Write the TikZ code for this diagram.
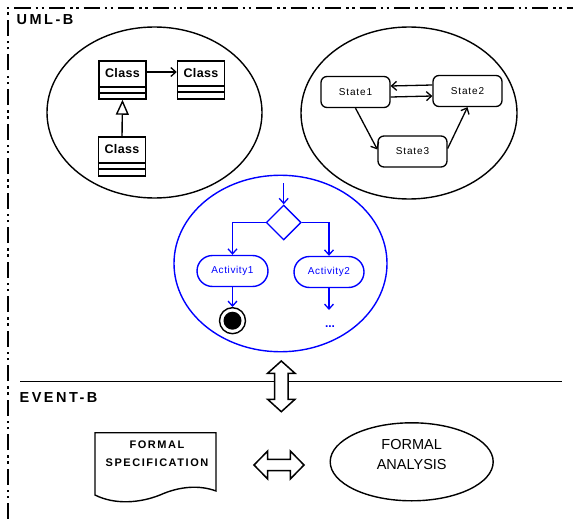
\documentclass[tikz,border=0pt]{standalone}
\usepackage{fontspec}
\setmainfont{Liberation Sans}
\usetikzlibrary{arrows.meta,shapes.geometric}
\newcommand{\labfont}{\fontsize{14.5pt}{17pt}\selectfont\bfseries\addfontfeature{LetterSpace=17}}
\newcommand{\clsfont}{\fontsize{12.5pt}{14pt}\selectfont\bfseries\addfontfeature{LetterSpace=3}}
\newcommand{\stfont}{\fontsize{10pt}{12pt}\selectfont\addfontfeature{LetterSpace=9}}
\newcommand{\actfont}{\fontsize{10pt}{12pt}\selectfont\addfontfeature{LetterSpace=6}}
\newcommand{\specfont}{\fontsize{11pt}{18pt}\selectfont\bfseries\addfontfeature{LetterSpace=14}}
\newcommand{\anafont}{\fontsize{14.5pt}{20pt}\selectfont}
\begin{document}
\begin{tikzpicture}[x=1pt,y=-1pt,line width=1.4pt,
  frameline/.style={line width=1.3pt,dash pattern=on 16pt off 5pt on 2.5pt off 3.5pt on 2.5pt off 5pt},
  bigell/.style={ellipse,draw,line width=1.4pt,inner sep=0pt},
  classbox/.style={rectangle,draw,line width=1.5pt,minimum width=47pt,minimum height=38pt,inner sep=0pt},
  classname/.style={inner sep=0pt,font=\clsfont},
  statebox/.style={rectangle,rounded corners=6pt,draw,line width=1.3pt,minimum width=69pt,minimum height=31pt,inner sep=0pt,font=\stfont},
  actbox/.style={rectangle,rounded corners=15.5pt,draw=blue,line width=1.4pt,minimum width=70pt,minimum height=31pt,inner sep=0pt,text=blue,font=\actfont},
  arr/.style={-{Straight Barb[length=5pt,width=9pt]},line width=1.3pt},
  barr/.style={arr,draw=blue},
  bigarrow/.style={draw=black,fill=white,line width=1.5pt,line join=miter},
  compline/.style={line width=1.5pt}
]
\useasboundingbox (0,0) rectangle (573,519);

% frame
\draw[frameline] (8,519) -- (8,8) -- (573,8);
\node[anchor=west,inner sep=0pt,font=\labfont] (umlb) at (16,19.5) {UML-B};

% class diagram
\node[bigell,minimum width=215pt,minimum height=171pt] (ecls) at (154.5,112.5) {};
\node[classbox] (c1) at (122.5,80) {};
\node[classname] (c1n) at (122.5,73) {Class};
\draw[compline] ([yshift=13pt]c1.south west) -- ([yshift=13pt]c1.south east);
\draw[compline] ([yshift=7pt]c1.south west) -- ([yshift=7pt]c1.south east);
\node[classbox] (c2) at (201,80) {};
\node[classname] (c2n) at (201,73) {Class};
\draw[compline] ([yshift=14pt]c2.south west) -- ([yshift=14pt]c2.south east);
\draw[compline] ([yshift=8pt]c2.south west) -- ([yshift=8pt]c2.south east);
\node[classbox,minimum height=39pt] (c3) at (122,156.5) {};
\node[classname] (c3n) at (122,149.5) {Class};
\draw[compline] ([yshift=14pt]c3.south west) -- ([yshift=14pt]c3.south east);
\draw[compline] ([yshift=8pt]c3.south west) -- ([yshift=8pt]c3.south east);
\draw[arr] ([yshift=8pt]c1.east) -- ([yshift=8pt]c2.west);
\draw[line width=1.4pt,-{Triangle[open,length=15pt,width=13pt,fill=white]}] (c3.north) -- (c1.south);

% state diagram
\node[bigell,minimum width=216pt,minimum height=172pt] (est) at (409,113) {};
\node[statebox] (s1) at (355.5,92) {State1};
\node[statebox] (s2) at (467.5,91) {State2};
\node[statebox] (s3) at (412.5,151.5) {State3};
\draw[arr] ([yshift=6pt]s2.west) -- ([yshift=6pt]s1.east);
\draw[arr] ([yshift=-5pt]s1.east) -- ([yshift=-5pt]s2.west);
\draw[arr] (s1.south) -- ([yshift=2pt]s3.west);
\draw[arr] ([yshift=3pt]s3.east) -- (s2.south);

% activity diagram
\node[bigell,draw=blue,minimum width=213pt,minimum height=176.5pt] (eact) at (280.5,263.5) {};
\coordinate (init) at (283.7,183);
\node[diamond,draw=blue,line width=1.4pt,minimum size=35pt,inner sep=0pt] (d) at (283.7,222.5) {};
\node[actbox,minimum width=71pt] (a1) at (232.5,271) {Activity1};
\node[actbox] (a2) at (329,272) {Activity2};
\node[circle,draw=black,line width=1.4pt,minimum size=26pt,inner sep=0pt,
  path picture={\fill[black] (path picture bounding box.center) circle (9pt);}] (f) at (232.5,320.7) {};
\coordinate (a2end) at (329,310);
\node[anchor=base,inner sep=0pt,text=blue,font=\fontsize{12pt}{14pt}\selectfont\bfseries] (dots) at (330,327) {...};
\draw[barr] (init) -- (d.north);
\draw[barr] (d.west) -| (a1.north);
\draw[barr] (d.east) -| (a2.north);
\draw[barr] (a1.south) -- (f.north);
\draw[barr] (a2.south) -- (a2end);

% separator
\draw[line width=1.3pt] (20,381.5) -- (562,381.5);
\draw[bigarrow] (281.3,361) -- (295,373.3) -- (288,373.3) -- (288,399.3) -- (295,399.3) -- (281.3,411.7)
  -- (267.6,399.3) -- (274.6,399.3) -- (274.6,373.3) -- (267.6,373.3) -- cycle;
\node[anchor=west,inner sep=0pt,font=\labfont] (eventb) at (19,398) {EVENT-B};

% event-b
\draw[line width=1.4pt] (95,432.7) -- (216,432.7) -- (216,491)
  .. controls (200,485) and (180,486) .. (160,495)
  .. controls (140,503) and (115,505) .. (95,495) -- cycle;
\node[align=center,inner sep=0pt,font=\specfont] (spec) at (157,454) {FORMAL\\SPECIFICATION};
\draw[bigarrow] (254,465) -- (267.7,451) -- (267.7,459.3) -- (290.3,459.3) -- (290.3,451) -- (304,465)
  -- (290.3,479) -- (290.3,470.7) -- (267.7,470.7) -- (267.7,479) -- cycle;
\node[ellipse,draw,line width=1.4pt,minimum width=163pt,minimum height=78pt,inner sep=0pt] (ana) at (411.7,461.8) {};
\node[align=center,inner sep=0pt,font=\anafont] (anatext) at (411.7,455) {FORMAL\\ANALYSIS};
\end{tikzpicture}
\end{document}
